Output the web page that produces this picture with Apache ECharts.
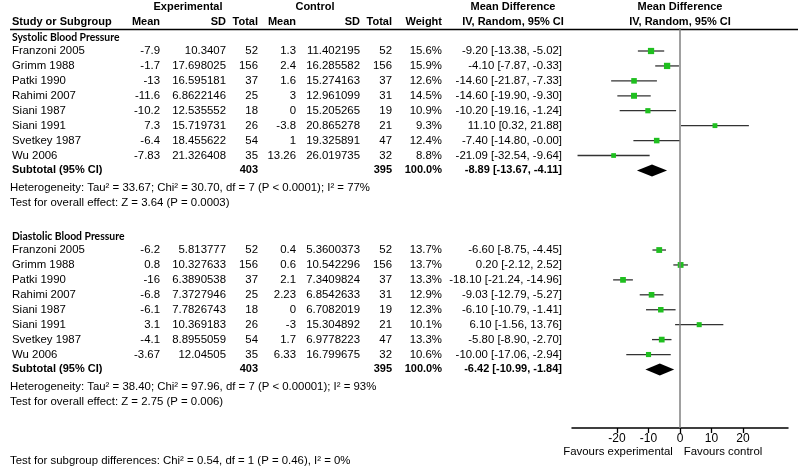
<!DOCTYPE html>
<html><head><meta charset="utf-8">
<script src="https://cdn.jsdelivr.net/npm/echarts@6/dist/echarts.min.js"></script>
<style>html,body{margin:0;padding:0;background:#fff}#c{width:800px;height:468px}</style>
</head><body><div id="c"></div>
<script>
var studies = ['Franzoni 2005','Grimm 1988','Patki 1990','Rahimi 2007','Siani 1987','Siani 1991','Svetkey 1987','Wu 2006'];

var sysExpMean = [-7.9,-1.7,-13,-11.6,-10.2,7.3,-6.4,-7.83];
var sysExpSD = [10.3407,17.698025,16.595181,6.8622146,12.535552,15.719731,18.455622,21.326408];
var sysExpN = [52,156,37,25,18,26,54,35];
var sysCtlMean = [1.3,2.4,1.6,3,0,-3.8,1,13.26];
var sysCtlSD = [11.402195,16.285582,15.274163,12.961099,15.205265,20.865278,19.325891,26.019735];
var sysCtlN = [52,156,37,31,19,21,47,32];
var sysWeight = [15.6,15.9,12.6,14.5,10.9,9.3,12.4,8.8];
var sysMD = [-9.20,-4.10,-14.60,-14.60,-10.20,11.10,-7.40,-21.09];
var sysLo = [-13.38,-7.87,-21.87,-19.90,-19.16,0.32,-14.80,-32.54];
var sysHi = [-5.02,-0.33,-7.33,-9.30,-1.24,21.88,-0.0001,-9.64];
var sysTotal = [-8.89,-13.67,-4.11];
var sysN = [403,395];
var sysHet = 'Heterogeneity: Tau\u00b2 = 33.67; Chi\u00b2 = 30.70, df = 7 (P < 0.0001); I\u00b2 = 77%';
var sysTest = 'Test for overall effect: Z = 3.64 (P = 0.0003)';

var diaExpMean = [-6.2,0.8,-16,-6.8,-6.1,3.1,-4.1,-3.67];
var diaExpSD = [5.813777,10.327633,6.3890538,7.3727946,7.7826743,10.369183,8.8955059,12.04505];
var diaExpN = [52,156,37,25,18,26,54,35];
var diaCtlMean = [0.4,0.6,2.1,2.23,0,-3,1.7,6.33];
var diaCtlSD = [5.3600373,10.542296,7.3409824,6.8542633,6.7082019,15.304892,6.9778223,16.799675];
var diaCtlN = [52,156,37,31,19,21,47,32];
var diaWeight = [13.7,13.7,13.3,12.9,12.3,10.1,13.3,10.6];
var diaMD = [-6.60,0.20,-18.10,-9.03,-6.10,6.10,-5.80,-10.00];
var diaLo = [-8.75,-2.12,-21.24,-12.79,-10.79,-1.56,-8.90,-17.06];
var diaHi = [-4.45,2.52,-14.96,-5.27,-1.41,13.76,-2.70,-2.94];
var diaTotal = [-6.42,-10.99,-1.84];
var diaN = [403,395];
var diaHet = 'Heterogeneity: Tau\u00b2 = 38.40; Chi\u00b2 = 97.96, df = 7 (P < 0.00001); I\u00b2 = 93%';
var diaTest = 'Test for overall effect: Z = 2.75 (P = 0.006)';

var groupNames = ['Systolic Blood Pressure','Diastolic Blood Pressure'];
var subgroupTest = 'Test for subgroup differences: Chi\u00b2 = 0.54, df = 1 (P = 0.46), I\u00b2 = 0%';
var axisTicks = [-20,-10,0,10,20];
var favours = ['Favours experimental','Favours control'];

// ---- layout ----
var S = 14.93, Y0 = 51, DIA_OFF = 13.33;
function yOf(r){ return Y0 + r*S; }
var GT = 28, GB = 428, GL = 572, GR = 788;
var XMIN = -34.3, XMAX = 34.3;

function fmt2(v){ var s = Math.abs(v).toFixed(2); return (v < 0 ? '-' : '') + s; }

var FONT = '"Liberation Sans", Arial, sans-serif';
var g = [];
function txt(x, y, s, align, bold, font, size){
  g.push({type:'text', x:x, y:y, silent:true, style:{text:s, x:0, y:0, align:align||'left', verticalAlign:'middle',
    font:(bold?'bold ':'') + (size||(bold?11:11.4)) + 'px ' + (font||FONT), fill:'#000'}});
}

// header
txt(188, 7, 'Experimental', 'center', true);
txt(315, 7, 'Control', 'center', true);
txt(513, 7, 'Mean Difference', 'center', true);
txt(680, 7, 'Mean Difference', 'center', true);
txt(12, 22, 'Study or Subgroup', 'left', true);
txt(160, 22, 'Mean', 'right', true);
txt(226, 22, 'SD', 'right', true);
txt(258, 22, 'Total', 'right', true);
txt(296, 22, 'Mean', 'right', true);
txt(360, 22, 'SD', 'right', true);
txt(392, 22, 'Total', 'right', true);
txt(442, 22, 'Weight', 'right', true);
txt(513, 22, 'IV, Random, 95% CI', 'center', true);
txt(680, 22, 'IV, Random, 95% CI', 'center', true);
g.push({type:'line', silent:true, shape:{x1:10,y1:29.5,x2:798,y2:29.5}, style:{stroke:'#000', lineWidth:1.3}});

var groups = [
  {off:0, em:sysExpMean, es:sysExpSD, en:sysExpN, cm:sysCtlMean, cs:sysCtlSD, cn:sysCtlN, w:sysWeight, md:sysMD, lo:sysLo, hi:sysHi, tot:sysTotal, n:sysN, het:sysHet, test:sysTest, name:groupNames[0]},
  {off:DIA_OFF, em:diaExpMean, es:diaExpSD, en:diaExpN, cm:diaCtlMean, cs:diaCtlSD, cn:diaCtlN, w:diaWeight, md:diaMD, lo:diaLo, hi:diaHi, tot:diaTotal, n:diaN, het:diaHet, test:diaTest, name:groupNames[1]}
];

var ciData = [], diamondData = [];
groups.forEach(function(G){
  txt(12, yOf(G.off - 0.88), G.name, 'left', true, '"Lato", "Open Sans", sans-serif', 10.4);
  studies.forEach(function(s, i){
    var y = yOf(G.off + i);
    txt(12, y, s, 'left');
    txt(160, y, String(G.em[i]), 'right');
    txt(226, y, String(G.es[i]), 'right');
    txt(258, y, String(G.en[i]), 'right');
    txt(296, y, String(G.cm[i]), 'right');
    txt(360, y, String(G.cs[i]), 'right');
    txt(392, y, String(G.cn[i]), 'right');
    txt(442, y, G.w[i].toFixed(1) + '%', 'right');
    txt(562, y, fmt2(G.md[i]) + ' [' + fmt2(G.lo[i]) + ', ' + fmt2(G.hi[i]) + ']', 'right');
    ciData.push([G.md[i], G.off + i, G.lo[i], G.hi[i], G.w[i]]);
  });
  var ys = yOf(G.off + 8);
  txt(12, ys, 'Subtotal (95% CI)', 'left', true);
  txt(258, ys, String(G.n[0]), 'right', true);
  txt(392, ys, String(G.n[1]), 'right', true);
  txt(442, ys, '100.0%', 'right', true);
  txt(562, ys, fmt2(G.tot[0]) + ' [' + fmt2(G.tot[1]) + ', ' + fmt2(G.tot[2]) + ']', 'right', true);
  diamondData.push([G.tot[0], G.off + 8, G.tot[1], G.tot[2]]);
  txt(10, yOf(G.off + 9.15), G.het, 'left');
  txt(10, yOf(G.off + 10.2), G.test, 'left');
});
txt(10, 461, subgroupTest, 'left');
txt(618, 452, favours[0], 'center');
txt(723, 452, favours[1], 'center');

var chart = echarts.init(document.getElementById('c'), null, {renderer:'canvas'});
chart.setOption({
  animation:false,
  grid:{left:GL, right:800-GR, top:GT, bottom:468-GB, containLabel:false},
  xAxis:{type:'value', min:XMIN, max:XMAX, splitLine:{show:false},
    axisLine:{onZero:false, lineStyle:{color:'#000', width:1.5}},
    axisTick:{customValues:axisTicks, inside:false, length:5, lineStyle:{color:'#000', width:1.3}},
    axisLabel:{customValues:axisTicks, color:'#000', fontSize:12, fontFamily:FONT, margin:5}},
  yAxis:{type:'value', inverse:true, min:(GT-Y0)/S, max:(GB-Y0)/S, show:false},
  series:[
    {type:'custom', data:ciData, z:3,
     renderItem:function(params, api){
       var c = api.coord([api.value(0), api.value(1)]);
       var a = api.coord([api.value(2), api.value(1)]);
       var b = api.coord([api.value(3), api.value(1)]);
       var sz = 2.8 + api.value(4)*0.22;
       return {type:'group', children:[
         {type:'line', shape:{x1:a[0], y1:c[1], x2:b[0], y2:c[1]}, style:{stroke:'#333', lineWidth:1.3}},
         {type:'rect', shape:{x:c[0]-sz/2, y:c[1]-sz/2, width:sz, height:sz}, style:{fill:'#1fbf1f'}}
       ]};
     },
     markLine:{silent:true, symbol:'none', label:{show:false}, lineStyle:{color:'#808080', width:1.5, type:'solid'},
       data:[{xAxis:0}]}
    },
    {type:'custom', data:diamondData, z:3,
     renderItem:function(params, api){
       var c = api.coord([api.value(0), api.value(1)]);
       var a = api.coord([api.value(2), api.value(1)]);
       var b = api.coord([api.value(3), api.value(1)]);
       return {type:'polygon', shape:{points:[[a[0], c[1]], [c[0], c[1]-6], [b[0], c[1]], [c[0], c[1]+6]]}, style:{fill:'#000'}};
     }}
  ],
  graphic:g
});
</script>
</body></html>
